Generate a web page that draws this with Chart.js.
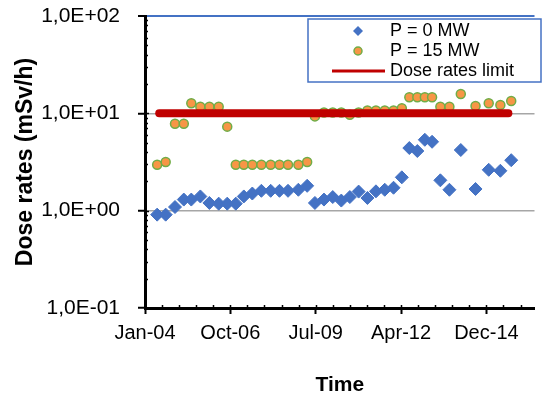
<!DOCTYPE html>
<html>
<head>
<meta charset="utf-8">
<script src="https://cdn.jsdelivr.net/npm/chart.js@4.4.1/dist/chart.umd.min.js"></script>
<style>
	html, body { margin: 0; padding: 0; background: #fff; }
	#dose-chart { display: block; }
</style>
</head>
<body>
<canvas id="dose-chart" width="542" height="398"></canvas>
<script>
// months counted from Jan-04
const months = [4.7, 8.0, 11.6, 15.0, 17.9, 21.4, 24.9, 28.5, 31.8, 35.1,
	38.2, 41.5, 45.0, 48.6, 52.0, 55.3, 59.3, 62.7, 65.7, 69.2,
	72.6, 75.9, 79.2, 82.6, 86.0, 89.3, 92.7, 96.1, 99.3, 102.2,
	105.3, 108.2, 111.0, 114.2, 117.7, 122.1, 127.8, 132.9, 137.4, 141.6];
const doseP0 = [0.91, 0.91, 1.09, 1.3, 1.3, 1.4, 1.2, 1.18, 1.18, 1.18,
	1.4, 1.5, 1.6, 1.6, 1.6, 1.6, 1.64, 1.8, 1.2, 1.3,
	1.38, 1.27, 1.38, 1.57, 1.35, 1.58, 1.64, 1.72, 2.2, 4.4,
	4.1, 5.35, 5.1, 2.05, 1.64, 4.2, 1.67, 2.63, 2.57, 3.3];
const doseP15 = [2.96, 3.16, 7.8, 7.8, 12.7, 11.7, 11.7, 11.7, 7.3, 2.96,
	2.96, 2.96, 2.96, 2.96, 2.96, 2.96, 2.96, 3.16, 9.3, 10.2,
	10.2, 10.2, 9.65, 10.2, 10.7, 10.7, 10.7, 10.7, 11.3, 14.6,
	14.6, 14.6, 14.6, 11.7, 11.7, 15.8, 11.9, 12.7, 12.2, 13.4];
const limitMonths = [5.5, 140.5];
const limitValues = [10, 10];

const seriesNames = ["P = 0 MW", "P = 15 MW", "Dose rates limit"];
const xTickLabels = ["Jan-04", "Oct-06", "Jul-09", "Apr-12", "Dec-14"];
const yTickValues = [0.1, 1, 10, 100];
const yTickLabels = ["1,0E-01", "1,0E+00", "1,0E+01", "1,0E+02"];

const blue = "#4472c4";
const orange = "#f79646";
const green = "#70ad47";
const red = "#c00000";
const gridGrey = "#a6a6a6";
const fontFamily = "'Liberation Sans', Arial, sans-serif";

function toPoints(xs, ys) {
	return xs.map((x, i) => ({ x: x, y: ys[i] }));
}

// small inner tick marks, like the excel axes
const innerTicks = {
	id: "innerTicks",
	beforeDatasetsDraw(chart) {
		const { ctx, chartArea, scales } = chart;
		ctx.save();
		ctx.strokeStyle = "#000";
		ctx.lineWidth = 1.5;
		ctx.beginPath();
		for (let d = 0.1; d < 100; d *= 10) {
			for (let k = 1; k < 10; k++) {
				const py = Math.round(scales.y.getPixelForValue(d * k)) + 0.5;
				const len = k === 1 ? 4 : 3;
				ctx.moveTo(chartArea.left, py);
				ctx.lineTo(chartArea.left + len, py);
			}
		}
		for (let m = 6.6; m < scales.x.max; m += 6.6) {
			const px = Math.round(scales.x.getPixelForValue(m)) + 0.5;
			ctx.moveTo(px, chartArea.bottom);
			ctx.lineTo(px, chartArea.bottom - 3);
		}
		ctx.stroke();
		ctx.restore();
	}
};

// boxed legend inside the plot (top right)
const boxLegend = {
	id: "boxLegend",
	afterDraw(chart) {
		const ctx = chart.ctx;
		const left = 308, top = 19, right = 541, bottom = 82;
		const markX = 358, textX = 390;
		const rows = [31, 51, 71];

		ctx.save();
		ctx.fillStyle = "#fff";
		ctx.fillRect(left, top, right - left, bottom - top);
		ctx.strokeStyle = blue;
		ctx.lineWidth = 1.5;
		ctx.strokeRect(left, top, right - left, bottom - top);

		// diamond
		ctx.fillStyle = blue;
		ctx.beginPath();
		ctx.moveTo(markX - 5, rows[0]);
		ctx.lineTo(markX, rows[0] - 5);
		ctx.lineTo(markX + 5, rows[0]);
		ctx.lineTo(markX, rows[0] + 5);
		ctx.closePath();
		ctx.fill();

		// circle
		ctx.fillStyle = orange;
		ctx.strokeStyle = green;
		ctx.lineWidth = 1.5;
		ctx.beginPath();
		ctx.arc(markX, rows[1], 4, 0, Math.PI * 2);
		ctx.fill();
		ctx.stroke();

		// line
		ctx.strokeStyle = red;
		ctx.lineWidth = 3;
		ctx.beginPath();
		ctx.moveTo(332, rows[2]);
		ctx.lineTo(385, rows[2]);
		ctx.stroke();

		ctx.fillStyle = "#000";
		ctx.font = "18px " + fontFamily;
		ctx.textBaseline = "middle";
		seriesNames.forEach((name, i) => ctx.fillText(name, textX, rows[i]));
		ctx.restore();
	}
};

function plotDoseRates() {
	const ctx = document.getElementById("dose-chart").getContext("2d");
	Chart.defaults.font.family = fontFamily;
	Chart.defaults.color = "#000";

	new Chart(ctx, {
		type: "scatter",
		data: {
			datasets: [
				{
					label: seriesNames[2],
					data: toPoints(limitMonths, limitValues),
					showLine: true,
					borderColor: red,
					borderWidth: 8,
					borderCapStyle: "round",
					pointRadius: 0,
					order: 0
				},
				{
					label: seriesNames[0],
					data: toPoints(months, doseP0),
					pointStyle: "rectRot",
					pointRadius: 6.5,
					backgroundColor: blue,
					borderColor: blue,
					borderWidth: 1,
					order: 1
				},
				{
					label: seriesNames[1],
					data: toPoints(months, doseP15),
					pointStyle: "circle",
					pointRadius: 4.5,
					backgroundColor: orange,
					borderColor: green,
					borderWidth: 1.5,
					order: 2
				}
			]
		},
		options: {
			responsive: false,
			animation: false,
			devicePixelRatio: 1,
			layout: { padding: { left: 4, top: 16, right: 0, bottom: 0 } },
			plugins: {
				legend: { display: false },
				tooltip: { enabled: false }
			},
			scales: {
				x: {
					type: "linear",
					min: 0,
					max: 150.6,
					afterFit: (scale) => { scale.height = 90; },
					ticks: {
						stepSize: 6.6,
						includeBounds: false,
						autoSkip: false,
						maxRotation: 0,
						padding: 7,
						font: { size: 20 },
						callback: (v, i) => (i % 5 === 0 ? xTickLabels[i / 5] : "")
					},
					grid: {
						drawOnChartArea: false,
						tickLength: 6,
						tickWidth: 2,
						tickColor: (c) => (c.index % 5 === 0 ? "#000" : "transparent")
					},
					border: { color: "#000", width: 3 },
					title: {
						display: true,
						text: "Time",
						font: { size: 21, weight: "bold" },
						padding: { top: 18, bottom: 0 }
					}
				},
				y: {
					type: "logarithmic",
					min: 0.1,
					max: 100,
					afterFit: (scale) => {
						scale.width = 141;
						scale.paddingTop = 12;
						scale.paddingBottom = 12;
					},
					afterBuildTicks: (scale) => {
						scale.ticks = yTickValues.map((v) => ({ value: v }));
					},
					ticks: {
						padding: 18,
						font: { size: 21 },
						callback: (v) => yTickLabels[yTickValues.indexOf(v)]
					},
					grid: {
						color: (c) => {
							const v = c.tick ? c.tick.value : null;
							if (v === 100) return blue;
							if (v === 1 || v === 10) return gridGrey;
							return "rgba(0,0,0,0)";
						},
						lineWidth: (c) => (c.tick && c.tick.value === 100 ? 2 : 1.5),
						tickLength: 7,
						tickWidth: 2,
						tickColor: "#000"
					},
					border: { color: "#000", width: 3 },
					title: {
						display: true,
						text: "Dose rates (mSv/h)",
						font: { size: 23, weight: "bold" },
						padding: { top: 8, bottom: 6 }
					}
				}
			}
		},
		plugins: [innerTicks, boxLegend]
	});
}

plotDoseRates();
</script>
</body>
</html>
